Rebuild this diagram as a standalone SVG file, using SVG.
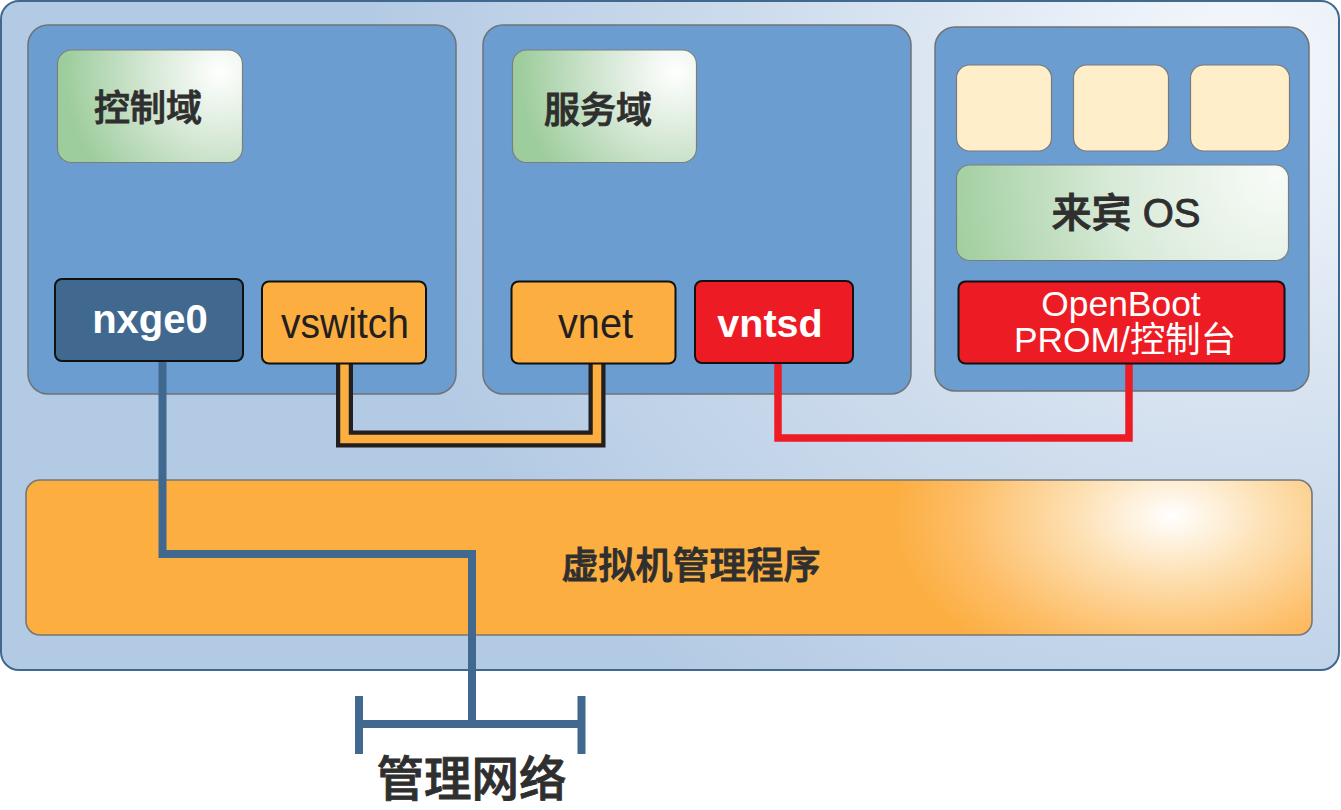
<svg xmlns="http://www.w3.org/2000/svg" width="1341" height="810" viewBox="0 0 1341 810">
<style>
text{font-family:"Liberation Sans","Noto Sans CJK SC",sans-serif;text-anchor:middle}
.dom{fill:#6b9dd0;stroke:#6f7376;stroke-width:1.5}
.green{stroke:#7b7f7c;stroke-width:1.2}
.cream{fill:#ffeeca;stroke:#77797a;stroke-width:1.2}
.box{stroke:#111;stroke-width:2}
.dark{fill:#2f2f2f;stroke:#2f2f2f;stroke-width:.9}
.white{fill:#fff}
.line{fill:none;stroke-linejoin:miter}
</style>
<defs>
<radialGradient id="bg" gradientUnits="userSpaceOnUse" cx="1240" cy="60" r="1100" gradientTransform="translate(0 20) scale(1 .9)">
<stop offset="0" stop-color="#f6f9fd"/><stop offset=".42" stop-color="#cfdded"/><stop offset=".8" stop-color="#b3cae4"/><stop offset="1" stop-color="#b3cae4"/>
</radialGradient>
<radialGradient id="hyp" gradientUnits="userSpaceOnUse" cx="1172" cy="510" r="280" gradientTransform="translate(0 200) scale(1 .62)">
<stop offset="0" stop-color="#fff"/><stop offset=".35" stop-color="#fde0b2"/><stop offset=".75" stop-color="#fdbd66"/><stop offset="1" stop-color="#fcae41"/>
</radialGradient>
<radialGradient id="g1" gradientUnits="userSpaceOnUse" cx="220" cy="72" r="155">
<stop offset="0" stop-color="#fff"/><stop offset=".45" stop-color="#d6e8d6"/><stop offset="1" stop-color="#9ecd9d"/>
</radialGradient>
<radialGradient id="g2" gradientUnits="userSpaceOnUse" cx="675" cy="72" r="155">
<stop offset="0" stop-color="#fff"/><stop offset=".45" stop-color="#d6e8d6"/><stop offset="1" stop-color="#9ecd9d"/>
</radialGradient>
<radialGradient id="g3" gradientUnits="userSpaceOnUse" cx="1275" cy="175" r="325">
<stop offset="0" stop-color="#f8fbf8"/><stop offset=".5" stop-color="#d8ead8"/><stop offset="1" stop-color="#a2cfa0"/>
</radialGradient>
</defs>
<rect id="host" x="1" y="1" width="1338" height="669" rx="18" fill="url(#bg)" stroke="#41688f" stroke-width="2"/>
<g id="control-domain">
<rect class="dom" x="28" y="25" width="428" height="369" rx="20"/>
</g>
<g id="service-domain">
<rect class="dom" x="483" y="25" width="428" height="369" rx="20"/>
</g>
<g id="guest-domain">
<rect class="dom" x="935" y="27" width="374" height="364" rx="20"/>
</g>
<g id="hypervisor">
<rect x="26" y="480" width="1286" height="155" rx="14" fill="url(#hyp)" stroke="#777" stroke-width="1.6"/>
<text class="dark" x="691" y="579" font-size="37" font-weight="500">虚拟机管理程序</text>
</g>
<g id="connectors">
<path class="line" d="M162.500 362V554H472V724" stroke="#41688f" stroke-width="8"/>
<path class="line" d="M359 724H582M359 696V754M581.500 696V754" stroke="#41688f" stroke-width="8"/>
<path class="line" d="M344.500 360V439H597V360" stroke="#231f20" stroke-width="17"/>
<path class="line" d="M344.500 360V439H597V360" stroke="#fcaf40" stroke-width="8.500"/>
<path class="line" d="M778 360V438H1129V360" stroke="#ed1c24" stroke-width="7.500"/>
</g>
<g id="control-label">
<rect class="green" x="57.500" y="50" width="185" height="112.500" rx="14" fill="url(#g1)"/>
<text class="dark" x="148" y="121" font-size="36" font-weight="500">控制域</text>
</g>
<g id="service-label">
<rect class="green" x="512.500" y="50" width="184" height="112.500" rx="14" fill="url(#g2)"/>
<text class="dark" x="598" y="123" font-size="36" font-weight="500">服务域</text>
</g>
<g id="nxge0">
<rect class="box" x="55" y="279" width="188" height="82" rx="7" fill="#41688f"/>
<text class="white" x="150" y="333" font-size="40" font-weight="700">nxge0</text>
</g>
<g id="vswitch">
<rect class="box" x="262" y="281.500" width="164" height="82" rx="7" fill="#fcaf40"/>
<text x="345" y="338" font-size="42" fill="#231f20" textLength="128" lengthAdjust="spacingAndGlyphs">vswitch</text>
</g>
<g id="vnet">
<rect class="box" x="511.500" y="281.500" width="164" height="82" rx="7" fill="#fcaf40"/>
<text x="595.500" y="338" font-size="42" fill="#231f20" textLength="75" lengthAdjust="spacingAndGlyphs">vnet</text>
</g>
<g id="vntsd">
<rect class="box" x="695" y="281" width="158" height="82" rx="7" fill="#ed1c24"/>
<text class="white" x="770" y="337" font-size="39.500" font-weight="700">vntsd</text>
</g>
<g id="app1"><rect class="cream" x="956.500" y="65" width="95" height="86" rx="13"/></g>
<g id="app2"><rect class="cream" x="1073.500" y="65" width="95" height="86" rx="13"/></g>
<g id="app3"><rect class="cream" x="1190.500" y="65" width="99" height="86" rx="13"/></g>
<g id="guest-os">
<rect class="green" x="956.500" y="165" width="332" height="95.500" rx="13" fill="url(#g3)"/>
<text class="dark" x="1126" y="227" font-size="40" font-weight="500">来宾 OS</text>
</g>
<g id="openboot">
<rect class="box" x="958.500" y="281.500" width="326" height="82" rx="7" fill="#ed1c24"/>
<text class="white" font-size="35.400"><tspan x="1121" y="316">OpenBoot</tspan><tspan x="1125" y="352">PROM/控制台</tspan></text>
</g>
<g id="network-label">
<text class="dark" x="471.500" y="796" font-size="47.500" font-weight="500">管理网络</text>
</g>
</svg>
